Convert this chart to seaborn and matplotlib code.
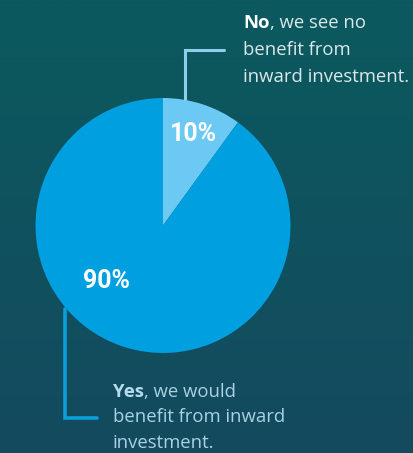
import numpy as np
import matplotlib
matplotlib.use("Agg")
import matplotlib.pyplot as plt
import seaborn as sns

# Data
answers = ["No", "Yes"]
shares = [10, 90]
no_lines = [", we see no", "benefit from", "inward investment."]
yes_lines = [", we would", "benefit from inward", "investment."]

sns.set_style("white")
plt.rcParams["font.family"] = ["Open Sans", "DejaVu Sans"]

W, H = 413, 453
fig = plt.figure(figsize=(W / 100, H / 100), dpi=100)
ax = fig.add_axes([0, 0, 1, 1])

# gradient background
top = np.array([0x0b, 0x5a, 0x5e]) / 255
bot = np.array([0x14, 0x4a, 0x5f]) / 255
t = np.linspace(0, 1, 256)[:, None]
grad = top[None, None, :] * (1 - t[..., None]) + bot[None, None, :] * t[..., None]
grad = np.repeat(grad, 2, axis=1)
ax.imshow(grad, extent=[0, W, 0, H], aspect="auto", origin="upper", zorder=0)

def Y(y):
    return H - y

cx, cy, R = 163, 225.5, 127.5
ax.pie(shares, colors=["#6cc9f4", "#009fe0"], startangle=90, counterclock=False,
       center=(cx, Y(cy)), radius=R, frame=True,
       wedgeprops=dict(linewidth=0), normalize=True)
ax.set_xlim(0, W)
ax.set_ylim(0, H)
ax.set_aspect("auto")
ax.set_axis_off()

# percent labels
pct_font = ["Roboto", "DejaVu Sans"]
ax.text(193, Y(134), f"{shares[0]}%", color="white", fontsize=18, fontweight="bold",
        family=pct_font, ha="center", va="center", zorder=5)
ax.text(107, Y(281), f"{shares[1]}%", color="white", fontsize=18, fontweight="bold",
        family=pct_font, ha="center", va="center", zorder=5)

# connector lines
ax.plot([185, 185, 224], [Y(99), Y(50), Y(50)], color="#8fcfec", lw=2.2,
        solid_joinstyle="miter", zorder=4)
ax.plot([65, 65, 97], [Y(309), Y(418), Y(418)], color="#0aa0dc", lw=2.6,
        solid_joinstyle="miter", zorder=4)

fig.canvas.draw()
renderer = fig.canvas.get_renderer()

def label(x, y0, bold, lines, color, bcolor, dy=27, fs=13.3):
    b = ax.text(x, Y(y0), bold, color=bcolor, fontsize=fs, fontweight="bold",
                ha="left", va="baseline", zorder=5)
    bb = b.get_window_extent(renderer=renderer)
    x1 = ax.transData.inverted().transform((bb.x1, bb.y0))[0]
    ax.text(x1, Y(y0), lines[0], color=color, fontsize=fs,
            ha="left", va="baseline", zorder=5)
    for i, ln in enumerate(lines[1:], start=1):
        ax.text(x, Y(y0 + i * dy), ln, color=color, fontsize=fs,
                ha="left", va="baseline", zorder=5)

label(243, 28, answers[0], no_lines, "#dbe8ea", "#ffffff", dy=27)
label(113, 397, answers[1], yes_lines, "#a9d2e4", "#b5dcec", dy=25.5)

fig.savefig("out.png", dpi=100)
